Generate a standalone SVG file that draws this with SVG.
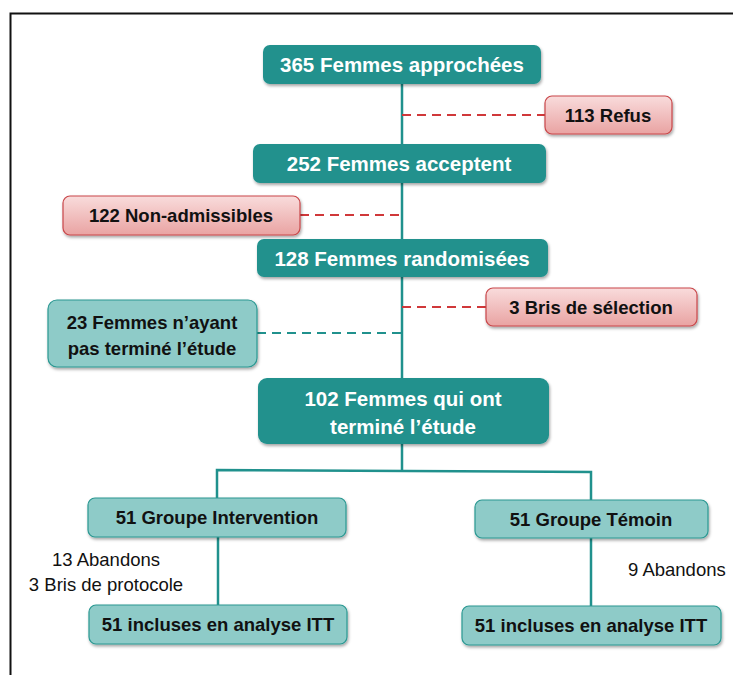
<svg xmlns="http://www.w3.org/2000/svg" width="733" height="675" viewBox="0 0 733 675">
<defs>
<linearGradient id="redg" x1="0" y1="0" x2="0" y2="1">
<stop offset="0" stop-color="#f9dcdc"/>
<stop offset="1" stop-color="#e9a3a2"/>
</linearGradient>
<filter id="sh" x="-10%" y="-20%" width="120%" height="150%">
<feDropShadow dx="1" dy="2" stdDeviation="1.5" flood-color="#000" flood-opacity="0.35"/>
</filter>
<style>
.dark{fill:#20918d;filter:url(#sh);}
.light{fill:#8ecbc8;stroke:#2a9892;stroke-width:1.2;filter:url(#sh);}
.red{fill:url(#redg);stroke:#c9474a;stroke-width:1.2;filter:url(#sh);}
.tw{font-family:"Liberation Sans","Open Sans",Arial,sans-serif;font-weight:bold;fill:#fff;text-anchor:middle;font-size:20.5px;}
.tb{font-family:"Liberation Sans","Open Sans",Arial,sans-serif;font-weight:bold;fill:#111;text-anchor:middle;font-size:18.5px;}
.tn{font-family:"Liberation Sans","Open Sans",Arial,sans-serif;fill:#111;font-size:18.5px;}
.solid{stroke:#20918d;stroke-width:2.5;fill:none;}
.dr{stroke:#d0383a;stroke-width:2.2;stroke-dasharray:9,6;fill:none;}
.dt{stroke:#20918d;stroke-width:2.2;stroke-dasharray:9,6;fill:none;}
</style>
</defs>
<rect width="733" height="675" fill="#fff"/>
<path d="M10.5,675 V13.5 H733" fill="none" stroke="#111" stroke-width="2"/>
<g id="connectors">
<line class="solid" x1="402" y1="84" x2="402" y2="470"/>
<path class="solid" d="M217,498 V470 L591,472 V500"/>
<line class="solid" x1="218" y1="537" x2="218" y2="605"/>
<line class="solid" x1="591" y1="538" x2="591" y2="606"/>
<line class="dr" x1="402" y1="115" x2="545" y2="115"/>
<line class="dr" x1="300" y1="215" x2="402" y2="215"/>
<line class="dr" x1="402" y1="307" x2="486" y2="307"/>
<line class="dt" x1="257" y1="333" x2="402" y2="333"/>
</g>
<g id="n365"><rect class="dark" x="263" y="45" width="278" height="39" rx="7"/><text class="tw" x="402" y="72">365 Femmes approchées</text></g>
<g id="n113"><rect class="red" x="545" y="96" width="127" height="38" rx="7"/><text class="tb" x="608" y="122">113 Refus</text></g>
<g id="n252"><rect class="dark" x="253" y="144" width="293" height="39" rx="7"/><text class="tw" x="399" y="171">252 Femmes acceptent</text></g>
<g id="n122"><rect class="red" x="63" y="196" width="237" height="39" rx="7"/><text class="tb" x="181" y="222">122 Non-admissibles</text></g>
<g id="n128"><rect class="dark" x="257" y="239" width="291" height="38" rx="7"/><text class="tw" x="402" y="266">128 Femmes randomisées</text></g>
<g id="n3"><rect class="red" x="486" y="288" width="211" height="38" rx="7"/><text class="tb" x="591" y="314">3 Bris de sélection</text></g>
<g id="n23"><rect class="light" x="48" y="300" width="209" height="67" rx="9"/><text class="tb" x="152" y="329">23 Femmes n’ayant</text><text class="tb" x="152" y="355">pas terminé l’étude</text></g>
<g id="n102"><rect class="dark" x="258" y="378" width="291" height="66" rx="9"/><text class="tw" x="403" y="406">102 Femmes qui ont</text><text class="tw" x="403" y="434">terminé l’étude</text></g>
<g id="nGI"><rect class="light" x="88" y="498" width="258" height="39" rx="7"/><text class="tb" x="217" y="524">51 Groupe Intervention</text></g>
<g id="nGT"><rect class="light" x="475" y="500" width="233" height="38" rx="7"/><text class="tb" x="591" y="526">51 Groupe Témoin</text></g>
<g id="nITT1"><rect class="light" x="89" y="605" width="258" height="39" rx="7"/><text class="tb" x="218" y="631">51 incluses en analyse ITT</text></g>
<g id="nITT2"><rect class="light" x="462" y="606" width="259" height="39" rx="7"/><text class="tb" x="591" y="632">51 incluses en analyse ITT</text></g>
<g id="notes">
<text class="tn" x="106" y="566" text-anchor="middle">13 Abandons</text>
<text class="tn" x="106" y="591" text-anchor="middle">3 Bris de protocole</text>
<text class="tn" x="628" y="576">9 Abandons</text>
</g>
</svg>
